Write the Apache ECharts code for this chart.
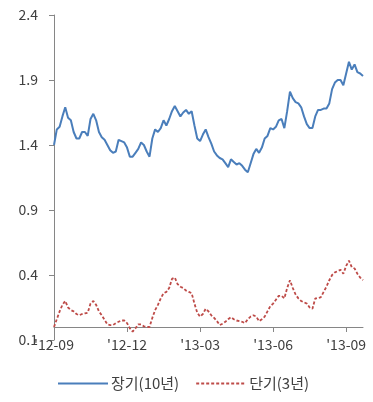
<!DOCTYPE html>
<html>
<head>
<meta charset="utf-8">
<script src="https://cdn.jsdelivr.net/npm/echarts@6/dist/echarts.min.js"></script>
<style>html,body{margin:0;padding:0;background:#fff}#c{width:373px;height:402px}</style>
</head>
<body>
<div id="c"></div>
<script>
// Twice-weekly observations (Mon / Thu) from 2012-09-03
const startDate = '2012-09-03';
const nPoints = 111;
const categories = [];
(function(){
  const d = new Date(startDate + 'T00:00:00Z');
  for (let i = 0; i < nPoints; i++) {
    categories.push(d.toISOString().slice(0,10));
    d.setUTCDate(d.getUTCDate() + (i % 2 === 0 ? 3 : 4));
  }
})();

const longTerm = [
  1.40,1.52,1.54,1.62,1.69,1.61,1.59,1.50,1.45,1.45,
  1.50,1.50,1.47,1.60,1.64,1.59,1.50,1.46,1.44,1.40,
  1.36,1.34,1.35,1.44,1.43,1.42,1.38,1.31,1.31,1.34,
  1.37,1.42,1.40,1.35,1.31,1.45,1.52,1.50,1.53,1.59,
  1.55,1.60,1.66,1.70,1.66,1.62,1.65,1.67,1.64,1.66,
  1.55,1.45,1.43,1.48,1.52,1.46,1.41,1.35,1.32,1.30,
  1.29,1.26,1.23,1.29,1.27,1.25,1.26,1.24,1.21,1.19,
  1.26,1.33,1.37,1.34,1.38,1.45,1.47,1.53,1.52,1.54,
  1.59,1.60,1.53,1.66,1.81,1.76,1.73,1.72,1.69,1.62,
  1.56,1.53,1.53,1.62,1.67,1.67,1.68,1.68,1.72,1.83,
  1.88,1.90,1.90,1.86,1.95,2.04,1.98,2.02,1.96,1.95,
  1.93];
const shortTerm = [
  0.00,0.06,0.12,0.17,0.20,0.15,0.13,0.12,0.10,0.09,
  0.10,0.105,0.11,0.18,0.20,0.17,0.12,0.09,0.055,0.02,
  0.015,0.015,0.03,0.04,0.05,0.05,0.03,-0.01,-0.035,-0.01,
  0.02,0.02,0.005,0.00,0.00,0.07,0.13,0.17,0.22,0.26,
  0.27,0.30,0.37,0.38,0.33,0.31,0.30,0.28,0.27,0.26,
  0.18,0.11,0.08,0.10,0.14,0.12,0.09,0.07,0.045,0.015,
  0.025,0.04,0.06,0.075,0.06,0.05,0.045,0.04,0.03,0.06,
  0.08,0.09,0.08,0.045,0.06,0.08,0.12,0.16,0.18,0.21,
  0.24,0.24,0.22,0.30,0.36,0.30,0.25,0.22,0.20,0.19,
  0.18,0.15,0.14,0.22,0.22,0.23,0.27,0.31,0.36,0.40,
  0.42,0.43,0.44,0.41,0.47,0.51,0.46,0.45,0.41,0.38,
  0.36];

const seriesNames = ['장기(10년)', '단기(3년)'];
const xTickIndex = [0, 26, 52, 78, 104];
const xTickLabels = ["'12-09", "'12-12", "'13-03", "'13-06", "'13-09"];
const yTickValues = [-0.1, 0.4, 0.9, 1.4, 1.9, 2.4];
const yTickLabels = ['0.1', '0.4', '0.9', '1.4', '1.9', '2.4'];

const axisColor = '#868686';
const textColor = '#404040';
const font = 'Malgun Gothic, "Noto Sans CJK KR", "Noto Sans", sans-serif';

const chart = echarts.init(document.getElementById('c'), null, {renderer: 'canvas'});
chart.setOption({
  animation: false,
  backgroundColor: '#fff',
  grid: {left: 54, right: 10, top: 15, bottom: 62, containLabel: false},
  legend: {
    bottom: 6, left: 52,
    itemWidth: 50, itemHeight: 12, itemGap: 16,
    itemStyle: {opacity: 0},
    textStyle: {color: textColor, fontSize: 15, fontFamily: font, padding: [0, 0, 0, -2]},
    data: seriesNames
  },
  xAxis: {
    type: 'category',
    data: categories,
    boundaryGap: false,
    axisLine: {onZero: true, lineStyle: {color: axisColor, width: 1}},
    axisTick: {show: true, length: 5, inside: false, lineStyle: {color: axisColor},
      interval: (i) => xTickIndex.includes(i)},
    axisLabel: {
      interval: (i) => xTickIndex.includes(i),
      margin: -2,
      color: textColor, fontSize: 14, fontFamily: font,
      formatter: (v, i) => { const k = xTickIndex.indexOf(i); return k >= 0 ? xTickLabels[k] : ''; }
    },
    splitLine: {show: false}
  },
  yAxis: {
    type: 'value',
    min: -0.1, max: 2.4,
    axisLine: {show: true, lineStyle: {color: axisColor, width: 1}},
    axisTick: {show: true, length: 5, lineStyle: {color: axisColor}, customValues: yTickValues},
    axisLabel: {
      customValues: yTickValues,
      margin: 16, color: textColor, fontSize: 14, fontFamily: font,
      formatter: (v) => { const k = yTickValues.findIndex(t => Math.abs(t - v) < 1e-6); return k >= 0 ? yTickLabels[k] : ''; }
    },
    splitLine: {show: false}
  },
  series: [
    {
      name: seriesNames[0], type: 'line', data: longTerm, symbol: 'none',
      lineStyle: {color: '#4A7EBB', width: 2}, itemStyle: {color: '#4A7EBB'}
    },
    {
      name: seriesNames[1], type: 'line', data: shortTerm, symbol: 'none',
      lineStyle: {color: '#BE4B48', width: 1.8, type: [3, 2]}, itemStyle: {color: '#BE4B48'}
    }
  ]
});
</script>
</body>
</html>
